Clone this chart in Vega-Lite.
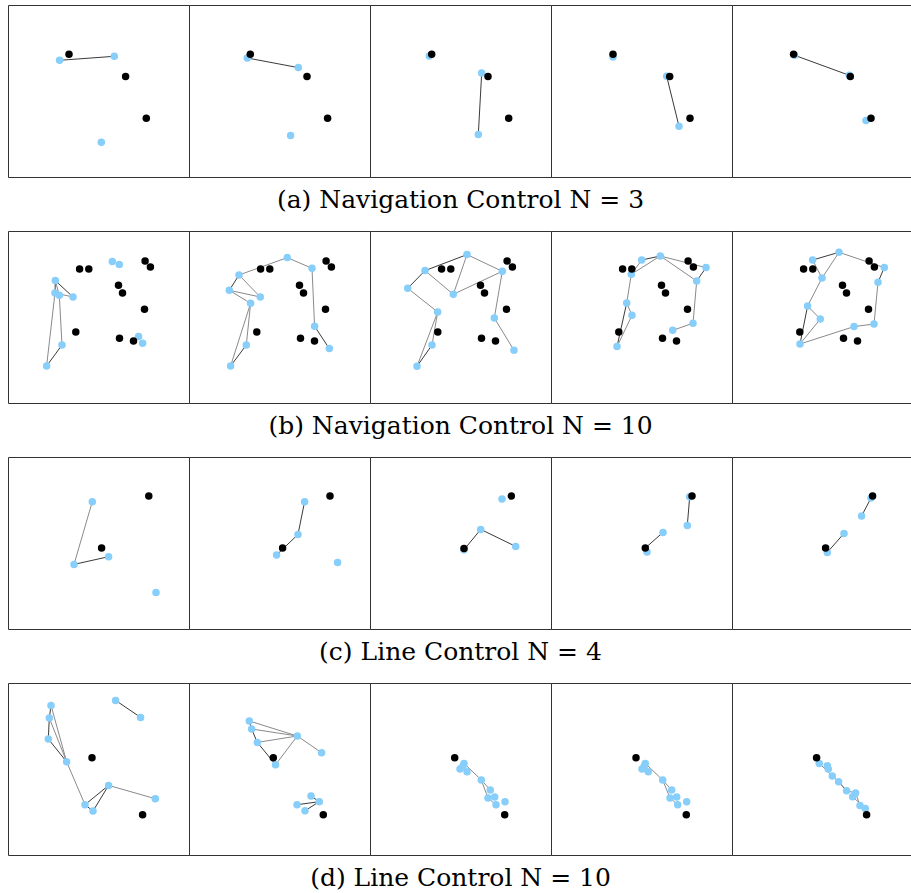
{
  "$schema": "https://vega.github.io/schema/vega-lite/v6.json",
  "padding": {"left": 7, "top": 4, "right": 0, "bottom": 0},
  "background": "white",
  "config": {
    "view": {"stroke": "#333333", "strokeWidth": 1},
    "title": {"font": "DejaVu Serif", "fontSize": 25, "fontWeight": "normal", "color": "#000000", "orient": "bottom", "offset": 10, "anchor": "middle"},
    "concat": {"spacing": 17}
  },
  "datasets": {
    "pts": [
      {"r":"a","p":1,"t":"T","x":6.10,"y":4.93},{"r":"a","p":1,"t":"T","x":11.76,"y":7.16},{"r":"a","p":1,"t":"T","x":13.83,"y":11.33},
      {"r":"a","p":1,"t":"A","x":5.16,"y":5.53},{"r":"a","p":1,"t":"A","x":10.63,"y":5.13},{"r":"a","p":1,"t":"A","x":9.33,"y":13.73},
      {"r":"a","p":1,"t":"E","x":5.16,"y":5.53,"x2":10.63,"y2":5.13,"s":"d"},
      {"r":"a","p":2,"t":"T","x":6.13,"y":4.93},{"r":"a","p":2,"t":"T","x":11.80,"y":7.16},{"r":"a","p":2,"t":"T","x":13.86,"y":11.33},
      {"r":"a","p":2,"t":"A","x":5.83,"y":5.30},{"r":"a","p":2,"t":"A","x":10.93,"y":6.26},{"r":"a","p":2,"t":"A","x":10.16,"y":13.06},
      {"r":"a","p":2,"t":"E","x":5.83,"y":5.30,"x2":10.93,"y2":6.26,"s":"d"},
      {"r":"a","p":3,"t":"T","x":6.17,"y":4.93},{"r":"a","p":3,"t":"T","x":11.80,"y":7.16},{"r":"a","p":3,"t":"T","x":13.87,"y":11.33},
      {"r":"a","p":3,"t":"A","x":5.93,"y":5.10},{"r":"a","p":3,"t":"A","x":11.17,"y":6.80},{"r":"a","p":3,"t":"A","x":10.83,"y":12.96},
      {"r":"a","p":3,"t":"E","x":11.17,"y":6.80,"x2":10.83,"y2":12.96,"s":"d"},
      {"r":"a","p":4,"t":"T","x":6.20,"y":4.93},{"r":"a","p":4,"t":"T","x":11.87,"y":7.16},{"r":"a","p":4,"t":"T","x":13.90,"y":11.33},
      {"r":"a","p":4,"t":"A","x":6.20,"y":5.20},{"r":"a","p":4,"t":"A","x":11.57,"y":7.13},{"r":"a","p":4,"t":"A","x":12.80,"y":12.13},
      {"r":"a","p":4,"t":"E","x":11.57,"y":7.13,"x2":12.80,"y2":12.13,"s":"d"},
      {"r":"a","p":5,"t":"T","x":6.16,"y":4.93},{"r":"a","p":5,"t":"T","x":11.83,"y":7.16},{"r":"a","p":5,"t":"T","x":13.90,"y":11.33},
      {"r":"a","p":5,"t":"A","x":6.26,"y":5.03},{"r":"a","p":5,"t":"A","x":11.73,"y":7.03},{"r":"a","p":5,"t":"A","x":13.40,"y":11.56},
      {"r":"a","p":5,"t":"E","x":6.26,"y":5.03,"x2":11.73,"y2":7.03,"s":"d"},

      {"r":"b","p":1,"t":"T","x":7.16,"y":3.80},{"r":"b","p":1,"t":"T","x":8.08,"y":3.80},{"r":"b","p":1,"t":"T","x":13.71,"y":3.00},{"r":"b","p":1,"t":"T","x":14.24,"y":3.60},{"r":"b","p":1,"t":"T","x":11.05,"y":5.43},{"r":"b","p":1,"t":"T","x":11.45,"y":6.20},{"r":"b","p":1,"t":"T","x":13.65,"y":7.83},{"r":"b","p":1,"t":"T","x":6.78,"y":10.10},{"r":"b","p":1,"t":"T","x":11.15,"y":10.73},{"r":"b","p":1,"t":"T","x":12.55,"y":11.00},
      {"r":"b","p":2,"t":"T","x":7.16,"y":3.80},{"r":"b","p":2,"t":"T","x":8.08,"y":3.80},{"r":"b","p":2,"t":"T","x":13.71,"y":3.00},{"r":"b","p":2,"t":"T","x":14.24,"y":3.60},{"r":"b","p":2,"t":"T","x":11.05,"y":5.43},{"r":"b","p":2,"t":"T","x":11.45,"y":6.20},{"r":"b","p":2,"t":"T","x":13.65,"y":7.83},{"r":"b","p":2,"t":"T","x":6.78,"y":10.10},{"r":"b","p":2,"t":"T","x":11.15,"y":10.73},{"r":"b","p":2,"t":"T","x":12.55,"y":11.00},
      {"r":"b","p":3,"t":"T","x":7.16,"y":3.80},{"r":"b","p":3,"t":"T","x":8.08,"y":3.80},{"r":"b","p":3,"t":"T","x":13.71,"y":3.00},{"r":"b","p":3,"t":"T","x":14.24,"y":3.60},{"r":"b","p":3,"t":"T","x":11.05,"y":5.43},{"r":"b","p":3,"t":"T","x":11.45,"y":6.20},{"r":"b","p":3,"t":"T","x":13.65,"y":7.83},{"r":"b","p":3,"t":"T","x":6.78,"y":10.10},{"r":"b","p":3,"t":"T","x":11.15,"y":10.73},{"r":"b","p":3,"t":"T","x":12.55,"y":11.00},
      {"r":"b","p":4,"t":"T","x":7.16,"y":3.80},{"r":"b","p":4,"t":"T","x":8.08,"y":3.80},{"r":"b","p":4,"t":"T","x":13.71,"y":3.00},{"r":"b","p":4,"t":"T","x":14.24,"y":3.60},{"r":"b","p":4,"t":"T","x":11.05,"y":5.43},{"r":"b","p":4,"t":"T","x":11.45,"y":6.20},{"r":"b","p":4,"t":"T","x":13.65,"y":7.83},{"r":"b","p":4,"t":"T","x":6.78,"y":10.10},{"r":"b","p":4,"t":"T","x":11.15,"y":10.73},{"r":"b","p":4,"t":"T","x":12.55,"y":11.00},
      {"r":"b","p":5,"t":"T","x":7.16,"y":3.80},{"r":"b","p":5,"t":"T","x":8.08,"y":3.80},{"r":"b","p":5,"t":"T","x":13.71,"y":3.00},{"r":"b","p":5,"t":"T","x":14.24,"y":3.60},{"r":"b","p":5,"t":"T","x":11.05,"y":5.43},{"r":"b","p":5,"t":"T","x":11.45,"y":6.20},{"r":"b","p":5,"t":"T","x":13.65,"y":7.83},{"r":"b","p":5,"t":"T","x":6.78,"y":10.10},{"r":"b","p":5,"t":"T","x":11.15,"y":10.73},{"r":"b","p":5,"t":"T","x":12.55,"y":11.00},

      {"r":"b","p":1,"t":"A","x":10.43,"y":3.06},{"r":"b","p":1,"t":"A","x":11.13,"y":3.36},{"r":"b","p":1,"t":"A","x":4.73,"y":4.96},{"r":"b","p":1,"t":"A","x":4.70,"y":6.20},{"r":"b","p":1,"t":"A","x":5.13,"y":6.43},{"r":"b","p":1,"t":"A","x":6.50,"y":6.60},{"r":"b","p":1,"t":"A","x":5.40,"y":11.40},{"r":"b","p":1,"t":"A","x":3.86,"y":13.50},{"r":"b","p":1,"t":"A","x":13.06,"y":10.56},{"r":"b","p":1,"t":"A","x":13.46,"y":11.23},
      {"r":"b","p":1,"t":"E","x":4.73,"y":4.96,"x2":6.50,"y2":6.60,"s":"d"},
      {"r":"b","p":1,"t":"E","x":4.73,"y":4.96,"x2":5.13,"y2":6.43,"s":"l"},
      {"r":"b","p":1,"t":"E","x":4.73,"y":4.96,"x2":4.70,"y2":6.20,"s":"d"},
      {"r":"b","p":1,"t":"E","x":4.70,"y":6.20,"x2":6.50,"y2":6.60,"s":"l"},
      {"r":"b","p":1,"t":"E","x":5.13,"y":6.43,"x2":5.40,"y2":11.40,"s":"l"},
      {"r":"b","p":1,"t":"E","x":4.70,"y":6.20,"x2":3.86,"y2":13.50,"s":"l"},
      {"r":"b","p":1,"t":"E","x":3.86,"y":13.50,"x2":5.40,"y2":11.40,"s":"d"},

      {"r":"b","p":2,"t":"A","x":9.83,"y":2.66},{"r":"b","p":2,"t":"A","x":12.30,"y":3.73},{"r":"b","p":2,"t":"A","x":5.00,"y":4.40},{"r":"b","p":2,"t":"A","x":4.03,"y":5.93},{"r":"b","p":2,"t":"A","x":7.13,"y":6.60},{"r":"b","p":2,"t":"A","x":6.16,"y":7.23},{"r":"b","p":2,"t":"A","x":12.56,"y":9.53},{"r":"b","p":2,"t":"A","x":5.73,"y":11.40},{"r":"b","p":2,"t":"A","x":4.16,"y":13.50},{"r":"b","p":2,"t":"A","x":14.03,"y":11.76},
      {"r":"b","p":2,"t":"E","x":5.00,"y":4.40,"x2":9.83,"y2":2.66,"s":"l"},
      {"r":"b","p":2,"t":"E","x":9.83,"y":2.66,"x2":12.30,"y2":3.73,"s":"l"},
      {"r":"b","p":2,"t":"E","x":12.30,"y":3.73,"x2":12.56,"y2":9.53,"s":"l"},
      {"r":"b","p":2,"t":"E","x":12.56,"y":9.53,"x2":14.03,"y2":11.76,"s":"d"},
      {"r":"b","p":2,"t":"E","x":5.00,"y":4.40,"x2":4.03,"y2":5.93,"s":"d"},
      {"r":"b","p":2,"t":"E","x":5.00,"y":4.40,"x2":7.13,"y2":6.60,"s":"l"},
      {"r":"b","p":2,"t":"E","x":4.03,"y":5.93,"x2":7.13,"y2":6.60,"s":"l"},
      {"r":"b","p":2,"t":"E","x":4.03,"y":5.93,"x2":6.16,"y2":7.23,"s":"l"},
      {"r":"b","p":2,"t":"E","x":6.16,"y":7.23,"x2":4.16,"y2":13.50,"s":"l"},
      {"r":"b","p":2,"t":"E","x":6.16,"y":7.23,"x2":5.73,"y2":11.40,"s":"l"},
      {"r":"b","p":2,"t":"E","x":5.73,"y":11.40,"x2":4.16,"y2":13.50,"s":"d"},

      {"r":"b","p":3,"t":"A","x":9.70,"y":2.36},{"r":"b","p":3,"t":"A","x":5.50,"y":3.96},{"r":"b","p":3,"t":"A","x":13.23,"y":4.03},{"r":"b","p":3,"t":"A","x":3.77,"y":5.73},{"r":"b","p":3,"t":"A","x":8.33,"y":6.33},{"r":"b","p":3,"t":"A","x":6.77,"y":8.10},{"r":"b","p":3,"t":"A","x":12.43,"y":8.70},{"r":"b","p":3,"t":"A","x":6.20,"y":11.40},{"r":"b","p":3,"t":"A","x":4.70,"y":13.53},{"r":"b","p":3,"t":"A","x":14.40,"y":11.93},
      {"r":"b","p":3,"t":"E","x":5.50,"y":3.96,"x2":9.70,"y2":2.36,"s":"d"},
      {"r":"b","p":3,"t":"E","x":9.70,"y":2.36,"x2":13.23,"y2":4.03,"s":"l"},
      {"r":"b","p":3,"t":"E","x":5.50,"y":3.96,"x2":3.77,"y2":5.73,"s":"d"},
      {"r":"b","p":3,"t":"E","x":5.50,"y":3.96,"x2":8.33,"y2":6.33,"s":"l"},
      {"r":"b","p":3,"t":"E","x":9.70,"y":2.36,"x2":8.33,"y2":6.33,"s":"l"},
      {"r":"b","p":3,"t":"E","x":8.33,"y":6.33,"x2":13.23,"y2":4.03,"s":"l"},
      {"r":"b","p":3,"t":"E","x":3.77,"y":5.73,"x2":6.77,"y2":8.10,"s":"l"},
      {"r":"b","p":3,"t":"E","x":6.77,"y":8.10,"x2":4.70,"y2":13.53,"s":"l"},
      {"r":"b","p":3,"t":"E","x":6.77,"y":8.10,"x2":6.20,"y2":11.40,"s":"l"},
      {"r":"b","p":3,"t":"E","x":6.20,"y":11.40,"x2":4.70,"y2":13.53,"s":"d"},
      {"r":"b","p":3,"t":"E","x":13.23,"y":4.03,"x2":12.43,"y2":8.70,"s":"l"},
      {"r":"b","p":3,"t":"E","x":12.43,"y":8.70,"x2":14.40,"y2":11.93,"s":"l"},

      {"r":"b","p":4,"t":"A","x":9.07,"y":2.90},{"r":"b","p":4,"t":"A","x":10.93,"y":2.50},{"r":"b","p":4,"t":"A","x":8.03,"y":4.33},{"r":"b","p":4,"t":"A","x":15.50,"y":3.66},{"r":"b","p":4,"t":"A","x":14.57,"y":5.00},{"r":"b","p":4,"t":"A","x":7.57,"y":7.20},{"r":"b","p":4,"t":"A","x":8.10,"y":8.43},{"r":"b","p":4,"t":"A","x":14.20,"y":9.23},{"r":"b","p":4,"t":"A","x":12.17,"y":9.93},{"r":"b","p":4,"t":"A","x":6.60,"y":11.56},
      {"r":"b","p":4,"t":"E","x":8.03,"y":4.33,"x2":9.07,"y2":2.90,"s":"l"},
      {"r":"b","p":4,"t":"E","x":8.03,"y":4.33,"x2":10.93,"y2":2.50,"s":"l"},
      {"r":"b","p":4,"t":"E","x":9.07,"y":2.90,"x2":10.93,"y2":2.50,"s":"d"},
      {"r":"b","p":4,"t":"E","x":10.93,"y":2.50,"x2":15.50,"y2":3.66,"s":"l"},
      {"r":"b","p":4,"t":"E","x":10.93,"y":2.50,"x2":14.57,"y2":5.00,"s":"l"},
      {"r":"b","p":4,"t":"E","x":15.50,"y":3.66,"x2":14.57,"y2":5.00,"s":"d"},
      {"r":"b","p":4,"t":"E","x":14.57,"y":5.00,"x2":14.20,"y2":9.23,"s":"l"},
      {"r":"b","p":4,"t":"E","x":14.20,"y":9.23,"x2":12.17,"y2":9.93,"s":"l"},
      {"r":"b","p":4,"t":"E","x":8.03,"y":4.33,"x2":7.57,"y2":7.20,"s":"l"},
      {"r":"b","p":4,"t":"E","x":7.57,"y":7.20,"x2":8.10,"y2":8.43,"s":"l"},
      {"r":"b","p":4,"t":"E","x":7.57,"y":7.20,"x2":6.60,"y2":11.56,"s":"d"},
      {"r":"b","p":4,"t":"E","x":8.10,"y":8.43,"x2":6.60,"y2":11.56,"s":"l"},

      {"r":"b","p":5,"t":"A","x":8.06,"y":2.90},{"r":"b","p":5,"t":"A","x":10.70,"y":2.13},{"r":"b","p":5,"t":"A","x":15.23,"y":3.66},{"r":"b","p":5,"t":"A","x":9.00,"y":4.70},{"r":"b","p":5,"t":"A","x":14.60,"y":5.13},{"r":"b","p":5,"t":"A","x":7.56,"y":7.50},{"r":"b","p":5,"t":"A","x":8.83,"y":8.80},{"r":"b","p":5,"t":"A","x":14.20,"y":9.30},{"r":"b","p":5,"t":"A","x":12.20,"y":9.56},{"r":"b","p":5,"t":"A","x":6.80,"y":11.30},
      {"r":"b","p":5,"t":"E","x":8.06,"y":2.90,"x2":10.70,"y2":2.13,"s":"d"},
      {"r":"b","p":5,"t":"E","x":9.00,"y":4.70,"x2":10.70,"y2":2.13,"s":"l"},
      {"r":"b","p":5,"t":"E","x":8.06,"y":2.90,"x2":9.00,"y2":4.70,"s":"l"},
      {"r":"b","p":5,"t":"E","x":10.70,"y":2.13,"x2":15.23,"y2":3.66,"s":"l"},
      {"r":"b","p":5,"t":"E","x":15.23,"y":3.66,"x2":14.60,"y2":5.13,"s":"d"},
      {"r":"b","p":5,"t":"E","x":14.60,"y":5.13,"x2":14.20,"y2":9.30,"s":"l"},
      {"r":"b","p":5,"t":"E","x":14.20,"y":9.30,"x2":12.20,"y2":9.56,"s":"l"},
      {"r":"b","p":5,"t":"E","x":12.20,"y":9.56,"x2":6.80,"y2":11.30,"s":"l"},
      {"r":"b","p":5,"t":"E","x":9.00,"y":4.70,"x2":7.56,"y2":7.50,"s":"l"},
      {"r":"b","p":5,"t":"E","x":7.56,"y":7.50,"x2":8.83,"y2":8.80,"s":"l"},
      {"r":"b","p":5,"t":"E","x":7.56,"y":7.50,"x2":6.80,"y2":11.30,"s":"d"},
      {"r":"b","p":5,"t":"E","x":8.83,"y":8.80,"x2":6.80,"y2":11.30,"s":"l"},

      {"r":"c","p":1,"t":"T","x":14.08,"y":3.90},{"r":"c","p":1,"t":"T","x":9.36,"y":9.10},
      {"r":"c","p":1,"t":"A","x":8.43,"y":4.47},{"r":"c","p":1,"t":"A","x":6.60,"y":10.74},{"r":"c","p":1,"t":"A","x":10.06,"y":9.97},{"r":"c","p":1,"t":"A","x":14.80,"y":13.54},
      {"r":"c","p":1,"t":"E","x":8.43,"y":4.47,"x2":6.60,"y2":10.74,"s":"l"},
      {"r":"c","p":1,"t":"E","x":6.60,"y":10.74,"x2":10.06,"y2":9.97,"s":"d"},
      {"r":"c","p":2,"t":"T","x":14.10,"y":3.90},{"r":"c","p":2,"t":"T","x":9.36,"y":9.10},
      {"r":"c","p":2,"t":"A","x":11.56,"y":4.47},{"r":"c","p":2,"t":"A","x":10.90,"y":7.74},{"r":"c","p":2,"t":"A","x":8.76,"y":9.80},{"r":"c","p":2,"t":"A","x":14.86,"y":10.54},
      {"r":"c","p":2,"t":"E","x":11.56,"y":4.47,"x2":10.90,"y2":7.74,"s":"d"},
      {"r":"c","p":2,"t":"E","x":10.90,"y":7.74,"x2":8.76,"y2":9.80,"s":"d"},
      {"r":"c","p":3,"t":"T","x":14.13,"y":3.90},{"r":"c","p":3,"t":"T","x":9.40,"y":9.14},
      {"r":"c","p":3,"t":"A","x":13.20,"y":4.20},{"r":"c","p":3,"t":"A","x":11.07,"y":7.24},{"r":"c","p":3,"t":"A","x":14.57,"y":8.94},{"r":"c","p":3,"t":"A","x":9.40,"y":9.27},
      {"r":"c","p":3,"t":"E","x":9.40,"y":9.27,"x2":11.07,"y2":7.24,"s":"d"},
      {"r":"c","p":3,"t":"E","x":11.07,"y":7.24,"x2":14.57,"y2":8.94,"s":"d"},
      {"r":"c","p":4,"t":"T","x":14.10,"y":3.90},{"r":"c","p":4,"t":"T","x":9.43,"y":9.10},
      {"r":"c","p":4,"t":"A","x":13.87,"y":3.97},{"r":"c","p":4,"t":"A","x":13.63,"y":6.84},{"r":"c","p":4,"t":"A","x":11.20,"y":7.54},{"r":"c","p":4,"t":"A","x":9.60,"y":9.50},
      {"r":"c","p":4,"t":"E","x":13.87,"y":3.97,"x2":13.63,"y2":6.84,"s":"d"},
      {"r":"c","p":4,"t":"E","x":9.43,"y":9.10,"x2":11.20,"y2":7.54,"s":"d"},
      {"r":"c","p":5,"t":"T","x":14.06,"y":3.90},{"r":"c","p":5,"t":"T","x":9.36,"y":9.10},
      {"r":"c","p":5,"t":"A","x":13.90,"y":4.10},{"r":"c","p":5,"t":"A","x":12.96,"y":5.90},{"r":"c","p":5,"t":"A","x":11.20,"y":7.64},{"r":"c","p":5,"t":"A","x":9.53,"y":9.54},
      {"r":"c","p":5,"t":"E","x":13.90,"y":4.10,"x2":12.96,"y2":5.90,"s":"d"},
      {"r":"c","p":5,"t":"E","x":9.53,"y":9.54,"x2":11.20,"y2":7.64,"s":"d"},

      {"r":"d","p":1,"t":"T","x":8.40,"y":7.47},{"r":"d","p":1,"t":"T","x":13.46,"y":13.17},
      {"r":"d","p":1,"t":"A","x":4.30,"y":2.24},{"r":"d","p":1,"t":"A","x":4.13,"y":3.50},{"r":"d","p":1,"t":"A","x":4.03,"y":5.60},{"r":"d","p":1,"t":"A","x":5.86,"y":7.87},{"r":"d","p":1,"t":"A","x":10.76,"y":1.74},{"r":"d","p":1,"t":"A","x":13.26,"y":3.44},{"r":"d","p":1,"t":"A","x":10.06,"y":10.24},{"r":"d","p":1,"t":"A","x":14.73,"y":11.57},{"r":"d","p":1,"t":"A","x":7.70,"y":12.17},{"r":"d","p":1,"t":"A","x":8.50,"y":12.80},
      {"r":"d","p":1,"t":"E","x":4.30,"y":2.24,"x2":4.13,"y2":3.50,"s":"d"},
      {"r":"d","p":1,"t":"E","x":4.30,"y":2.24,"x2":5.86,"y2":7.87,"s":"l"},
      {"r":"d","p":1,"t":"E","x":4.13,"y":3.50,"x2":5.86,"y2":7.87,"s":"l"},
      {"r":"d","p":1,"t":"E","x":4.13,"y":3.50,"x2":4.03,"y2":5.60,"s":"d"},
      {"r":"d","p":1,"t":"E","x":4.03,"y":5.60,"x2":5.86,"y2":7.87,"s":"d"},
      {"r":"d","p":1,"t":"E","x":5.86,"y":7.87,"x2":7.70,"y2":12.17,"s":"l"},
      {"r":"d","p":1,"t":"E","x":10.76,"y":1.74,"x2":13.26,"y2":3.44,"s":"d"},
      {"r":"d","p":1,"t":"E","x":10.06,"y":10.24,"x2":14.73,"y2":11.57,"s":"l"},
      {"r":"d","p":1,"t":"E","x":10.06,"y":10.24,"x2":7.70,"y2":12.17,"s":"d"},
      {"r":"d","p":1,"t":"E","x":10.06,"y":10.24,"x2":8.50,"y2":12.80,"s":"d"},
      {"r":"d","p":1,"t":"E","x":7.70,"y":12.17,"x2":8.50,"y2":12.80,"s":"d"},

      {"r":"d","p":2,"t":"T","x":8.43,"y":7.47},{"r":"d","p":2,"t":"T","x":13.43,"y":13.17},
      {"r":"d","p":2,"t":"A","x":6.03,"y":3.80},{"r":"d","p":2,"t":"A","x":6.26,"y":4.60},{"r":"d","p":2,"t":"A","x":6.83,"y":5.94},{"r":"d","p":2,"t":"A","x":10.83,"y":5.30},{"r":"d","p":2,"t":"A","x":13.26,"y":6.97},{"r":"d","p":2,"t":"A","x":8.66,"y":8.17},{"r":"d","p":2,"t":"A","x":12.20,"y":11.30},{"r":"d","p":2,"t":"A","x":13.03,"y":11.87},{"r":"d","p":2,"t":"A","x":10.80,"y":12.17},{"r":"d","p":2,"t":"A","x":11.60,"y":12.77},
      {"r":"d","p":2,"t":"E","x":6.03,"y":3.80,"x2":10.83,"y2":5.30,"s":"l"},
      {"r":"d","p":2,"t":"E","x":6.26,"y":4.60,"x2":10.83,"y2":5.30,"s":"l"},
      {"r":"d","p":2,"t":"E","x":6.83,"y":5.94,"x2":10.83,"y2":5.30,"s":"l"},
      {"r":"d","p":2,"t":"E","x":6.03,"y":3.80,"x2":6.26,"y2":4.60,"s":"d"},
      {"r":"d","p":2,"t":"E","x":6.26,"y":4.60,"x2":6.83,"y2":5.94,"s":"d"},
      {"r":"d","p":2,"t":"E","x":6.83,"y":5.94,"x2":8.66,"y2":8.17,"s":"d"},
      {"r":"d","p":2,"t":"E","x":8.66,"y":8.17,"x2":10.83,"y2":5.30,"s":"l"},
      {"r":"d","p":2,"t":"E","x":10.83,"y":5.30,"x2":13.26,"y2":6.97,"s":"l"},
      {"r":"d","p":2,"t":"E","x":10.80,"y":12.17,"x2":13.03,"y2":11.87,"s":"d"},
      {"r":"d","p":2,"t":"E","x":12.20,"y":11.30,"x2":13.03,"y2":11.87,"s":"d"},
      {"r":"d","p":2,"t":"E","x":11.60,"y":12.77,"x2":13.03,"y2":11.87,"s":"d"},

      {"r":"d","p":3,"t":"T","x":8.47,"y":7.47},{"r":"d","p":3,"t":"T","x":13.47,"y":13.17},
      {"r":"d","p":3,"t":"A","x":9.40,"y":8.04},{"r":"d","p":3,"t":"A","x":9.00,"y":8.60},{"r":"d","p":3,"t":"A","x":9.70,"y":8.87},{"r":"d","p":3,"t":"A","x":11.13,"y":9.70},{"r":"d","p":3,"t":"A","x":12.03,"y":10.70},{"r":"d","p":3,"t":"A","x":11.80,"y":11.50},{"r":"d","p":3,"t":"A","x":12.47,"y":11.40},{"r":"d","p":3,"t":"A","x":12.60,"y":12.17},{"r":"d","p":3,"t":"A","x":13.50,"y":11.87},{"r":"d","p":3,"t":"A","x":9.30,"y":8.30},
      {"r":"d","p":3,"t":"E","x":9.40,"y":8.04,"x2":11.13,"y2":9.70,"s":"l"},
      {"r":"d","p":3,"t":"E","x":11.13,"y":9.70,"x2":12.03,"y2":10.70,"s":"l"},
      {"r":"d","p":3,"t":"E","x":11.13,"y":9.70,"x2":11.80,"y2":11.50,"s":"l"},
      {"r":"d","p":3,"t":"E","x":11.80,"y":11.50,"x2":12.60,"y2":12.17,"s":"l"},
      {"r":"d","p":3,"t":"E","x":9.00,"y":8.60,"x2":9.40,"y2":8.04,"s":"l"},

      {"r":"d","p":4,"t":"T","x":8.50,"y":7.47},{"r":"d","p":4,"t":"T","x":13.53,"y":13.17},
      {"r":"d","p":4,"t":"A","x":9.43,"y":8.04},{"r":"d","p":4,"t":"A","x":9.10,"y":8.60},{"r":"d","p":4,"t":"A","x":9.73,"y":8.87},{"r":"d","p":4,"t":"A","x":11.17,"y":9.70},{"r":"d","p":4,"t":"A","x":12.07,"y":10.70},{"r":"d","p":4,"t":"A","x":11.90,"y":11.50},{"r":"d","p":4,"t":"A","x":12.57,"y":11.40},{"r":"d","p":4,"t":"A","x":12.67,"y":12.17},{"r":"d","p":4,"t":"A","x":13.57,"y":11.87},{"r":"d","p":4,"t":"A","x":9.33,"y":8.30},
      {"r":"d","p":4,"t":"E","x":9.43,"y":8.04,"x2":11.17,"y2":9.70,"s":"l"},
      {"r":"d","p":4,"t":"E","x":11.17,"y":9.70,"x2":12.07,"y2":10.70,"s":"l"},
      {"r":"d","p":4,"t":"E","x":11.17,"y":9.70,"x2":11.90,"y2":11.50,"s":"l"},
      {"r":"d","p":4,"t":"E","x":11.90,"y":11.50,"x2":12.67,"y2":12.17,"s":"l"},
      {"r":"d","p":4,"t":"E","x":9.10,"y":8.60,"x2":9.43,"y2":8.04,"s":"l"},

      {"r":"d","p":5,"t":"T","x":8.46,"y":7.47},{"r":"d","p":5,"t":"T","x":13.46,"y":13.17},
      {"r":"d","p":5,"t":"A","x":8.73,"y":8.04},{"r":"d","p":5,"t":"A","x":9.53,"y":8.27},{"r":"d","p":5,"t":"A","x":9.63,"y":8.60},{"r":"d","p":5,"t":"A","x":10.03,"y":9.30},{"r":"d","p":5,"t":"A","x":10.66,"y":9.87},{"r":"d","p":5,"t":"A","x":11.46,"y":10.77},{"r":"d","p":5,"t":"A","x":12.06,"y":11.37},{"r":"d","p":5,"t":"A","x":12.36,"y":11.00},{"r":"d","p":5,"t":"A","x":12.80,"y":12.24},{"r":"d","p":5,"t":"A","x":13.33,"y":12.54},
      {"r":"d","p":5,"t":"E","x":8.73,"y":8.04,"x2":10.03,"y2":9.30,"s":"l"},
      {"r":"d","p":5,"t":"E","x":10.03,"y":9.30,"x2":10.66,"y2":9.87,"s":"l"},
      {"r":"d","p":5,"t":"E","x":10.66,"y":9.87,"x2":11.46,"y2":10.77,"s":"d"},
      {"r":"d","p":5,"t":"E","x":11.46,"y":10.77,"x2":12.36,"y2":11.00,"s":"l"},
      {"r":"d","p":5,"t":"E","x":12.36,"y":11.00,"x2":12.80,"y2":12.24,"s":"l"},
      {"r":"d","p":5,"t":"E","x":12.06,"y":11.37,"x2":13.33,"y2":12.54,"s":"l"}
    ]
  },
  "data": {"name": "pts"},
  "vconcat": [
    {
      "title": {"text": "(a) Navigation Control N = 3"},
      "transform": [{"filter": "datum.r === 'a'"}],
      "facet": {"column": {"field": "p", "type": "ordinal", "header": null}},
      "spacing": 0,
      "bounds": "flush",
      "spec": {
        "width": 181, "height": 172,
        "layer": [
          {"transform": [{"filter": "datum.t === 'E'"}], "mark": {"type": "rule", "strokeWidth": 1},
           "encoding": {"x": {"field": "x", "type": "quantitative", "scale": {"domain": [0, 18.1], "nice": false, "zero": false}, "axis": null},
                        "y": {"field": "y", "type": "quantitative", "scale": {"domain": [0, 17.2], "nice": false, "zero": false, "reverse": true}, "axis": null},
                        "x2": {"field": "x2"}, "y2": {"field": "y2"},
                        "color": {"field": "s", "type": "nominal", "scale": {"domain": ["d", "l"], "range": ["#3a3a3a", "#8a8a8a"]}, "legend": null}}},
          {"transform": [{"filter": "datum.t === 'A'"}], "mark": {"type": "circle", "size": 56, "opacity": 1, "color": "#87cefa"},
           "encoding": {"x": {"field": "x", "type": "quantitative", "scale": {"domain": [0, 18.1], "nice": false, "zero": false}, "axis": null},
                        "y": {"field": "y", "type": "quantitative", "scale": {"domain": [0, 17.2], "nice": false, "zero": false, "reverse": true}, "axis": null}}},
          {"transform": [{"filter": "datum.t === 'T'"}], "mark": {"type": "circle", "size": 56, "opacity": 1, "color": "#000000"},
           "encoding": {"x": {"field": "x", "type": "quantitative", "scale": {"domain": [0, 18.1], "nice": false, "zero": false}, "axis": null},
                        "y": {"field": "y", "type": "quantitative", "scale": {"domain": [0, 17.2], "nice": false, "zero": false, "reverse": true}, "axis": null}}}
        ]
      }
    },
    {
      "title": {"text": "(b) Navigation Control N = 10"},
      "transform": [{"filter": "datum.r === 'b'"}],
      "facet": {"column": {"field": "p", "type": "ordinal", "header": null}},
      "spacing": 0,
      "bounds": "flush",
      "spec": {
        "width": 181, "height": 172,
        "layer": [
          {"transform": [{"filter": "datum.t === 'E'"}], "mark": {"type": "rule", "strokeWidth": 1},
           "encoding": {"x": {"field": "x", "type": "quantitative", "scale": {"domain": [0, 18.1], "nice": false, "zero": false}, "axis": null},
                        "y": {"field": "y", "type": "quantitative", "scale": {"domain": [0, 17.2], "nice": false, "zero": false, "reverse": true}, "axis": null},
                        "x2": {"field": "x2"}, "y2": {"field": "y2"},
                        "color": {"field": "s", "type": "nominal", "scale": {"domain": ["d", "l"], "range": ["#3a3a3a", "#8a8a8a"]}, "legend": null}}},
          {"transform": [{"filter": "datum.t === 'A'"}], "mark": {"type": "circle", "size": 56, "opacity": 1, "color": "#87cefa"},
           "encoding": {"x": {"field": "x", "type": "quantitative", "scale": {"domain": [0, 18.1], "nice": false, "zero": false}, "axis": null},
                        "y": {"field": "y", "type": "quantitative", "scale": {"domain": [0, 17.2], "nice": false, "zero": false, "reverse": true}, "axis": null}}},
          {"transform": [{"filter": "datum.t === 'T'"}], "mark": {"type": "circle", "size": 56, "opacity": 1, "color": "#000000"},
           "encoding": {"x": {"field": "x", "type": "quantitative", "scale": {"domain": [0, 18.1], "nice": false, "zero": false}, "axis": null},
                        "y": {"field": "y", "type": "quantitative", "scale": {"domain": [0, 17.2], "nice": false, "zero": false, "reverse": true}, "axis": null}}}
        ]
      }
    },
    {
      "title": {"text": "(c) Line Control N = 4"},
      "transform": [{"filter": "datum.r === 'c'"}],
      "facet": {"column": {"field": "p", "type": "ordinal", "header": null}},
      "spacing": 0,
      "bounds": "flush",
      "spec": {
        "width": 181, "height": 172,
        "layer": [
          {"transform": [{"filter": "datum.t === 'E'"}], "mark": {"type": "rule", "strokeWidth": 1},
           "encoding": {"x": {"field": "x", "type": "quantitative", "scale": {"domain": [0, 18.1], "nice": false, "zero": false}, "axis": null},
                        "y": {"field": "y", "type": "quantitative", "scale": {"domain": [0, 17.2], "nice": false, "zero": false, "reverse": true}, "axis": null},
                        "x2": {"field": "x2"}, "y2": {"field": "y2"},
                        "color": {"field": "s", "type": "nominal", "scale": {"domain": ["d", "l"], "range": ["#3a3a3a", "#8a8a8a"]}, "legend": null}}},
          {"transform": [{"filter": "datum.t === 'A'"}], "mark": {"type": "circle", "size": 56, "opacity": 1, "color": "#87cefa"},
           "encoding": {"x": {"field": "x", "type": "quantitative", "scale": {"domain": [0, 18.1], "nice": false, "zero": false}, "axis": null},
                        "y": {"field": "y", "type": "quantitative", "scale": {"domain": [0, 17.2], "nice": false, "zero": false, "reverse": true}, "axis": null}}},
          {"transform": [{"filter": "datum.t === 'T'"}], "mark": {"type": "circle", "size": 56, "opacity": 1, "color": "#000000"},
           "encoding": {"x": {"field": "x", "type": "quantitative", "scale": {"domain": [0, 18.1], "nice": false, "zero": false}, "axis": null},
                        "y": {"field": "y", "type": "quantitative", "scale": {"domain": [0, 17.2], "nice": false, "zero": false, "reverse": true}, "axis": null}}}
        ]
      }
    },
    {
      "title": {"text": "(d) Line Control N = 10"},
      "transform": [{"filter": "datum.r === 'd'"}],
      "facet": {"column": {"field": "p", "type": "ordinal", "header": null}},
      "spacing": 0,
      "bounds": "flush",
      "spec": {
        "width": 181, "height": 172,
        "layer": [
          {"transform": [{"filter": "datum.t === 'E'"}], "mark": {"type": "rule", "strokeWidth": 1},
           "encoding": {"x": {"field": "x", "type": "quantitative", "scale": {"domain": [0, 18.1], "nice": false, "zero": false}, "axis": null},
                        "y": {"field": "y", "type": "quantitative", "scale": {"domain": [0, 17.2], "nice": false, "zero": false, "reverse": true}, "axis": null},
                        "x2": {"field": "x2"}, "y2": {"field": "y2"},
                        "color": {"field": "s", "type": "nominal", "scale": {"domain": ["d", "l"], "range": ["#3a3a3a", "#8a8a8a"]}, "legend": null}}},
          {"transform": [{"filter": "datum.t === 'A'"}], "mark": {"type": "circle", "size": 56, "opacity": 1, "color": "#87cefa"},
           "encoding": {"x": {"field": "x", "type": "quantitative", "scale": {"domain": [0, 18.1], "nice": false, "zero": false}, "axis": null},
                        "y": {"field": "y", "type": "quantitative", "scale": {"domain": [0, 17.2], "nice": false, "zero": false, "reverse": true}, "axis": null}}},
          {"transform": [{"filter": "datum.t === 'T'"}], "mark": {"type": "circle", "size": 56, "opacity": 1, "color": "#000000"},
           "encoding": {"x": {"field": "x", "type": "quantitative", "scale": {"domain": [0, 18.1], "nice": false, "zero": false}, "axis": null},
                        "y": {"field": "y", "type": "quantitative", "scale": {"domain": [0, 17.2], "nice": false, "zero": false, "reverse": true}, "axis": null}}}
        ]
      }
    }
  ]
}
